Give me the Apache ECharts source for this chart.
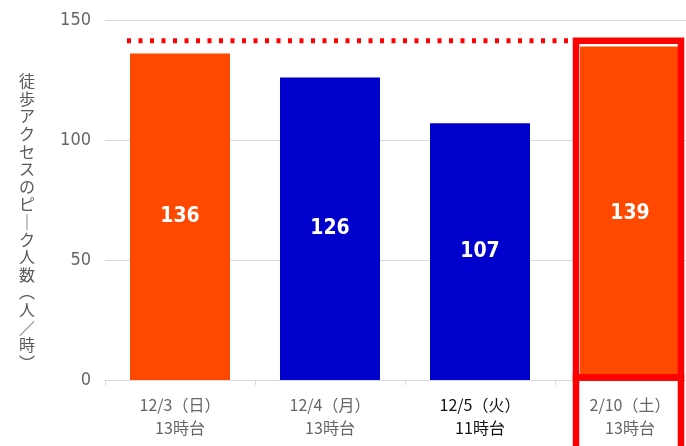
<!DOCTYPE html>
<html>
<head>
<meta charset="utf-8">
<script src="https://cdn.jsdelivr.net/npm/echarts@6/dist/echarts.min.js"></script>
<style>html,body{margin:0;padding:0;background:#fff;}#c{width:686px;height:446px;}</style>
</head>
<body>
<div id="c"></div>
<script>
const categories = ['12/3（日）\n13時台', '12/4（月）\n13時台', '12/5（火）\n11時台', '2/10（土）\n13時台'];
const values = [136, 126, 107, 139];
const barColors = ['#FF4800', '#0000CC', '#0000CC', '#FF4800'];
const labelColors = ['#666666', '#666666', '#111111', '#666666'];
const yTicks = [0, 50, 100, 150];
const yName = '徒歩アクセスのピ｜ク人数︵人／時︶';
const referenceValue = 141.4;

const numFont = '"DejaVu Sans Condensed", "Noto Sans CJK JP", sans-serif';
const chart = echarts.init(document.getElementById('c'));
chart.setOption({
  animation: false,
  backgroundColor: '#ffffff',
  grid: { left: 105, width: 600, top: 20, height: 360, containLabel: false, outerBoundsMode: 'none' },
  xAxis: {
    type: 'category',
    data: categories,
    axisLine: { lineStyle: { color: '#d9d9d9', width: 1 } },
    axisTick: { show: true, length: 5, lineStyle: { color: '#d9d9d9' } },
    axisLabel: {
      margin: 13,
      fontSize: 16,
      lineHeight: 23,
      fontFamily: '"Noto Sans CJK JP", sans-serif',
      color: function (v, i) { return labelColors[i]; }
    }
  },
  yAxis: {
    type: 'value',
    min: yTicks[0],
    max: yTicks[yTicks.length - 1],
    interval: 50,
    axisLine: { show: false },
    axisTick: { show: false },
    splitLine: { lineStyle: { color: '#d9d9d9', width: 1 } },
    axisLabel: { margin: 14, fontSize: 18, color: '#666666', fontFamily: numFont }
  },
  series: [{
    type: 'bar',
    barWidth: 100,
    data: values.map((v, i) => ({ value: v, itemStyle: { color: barColors[i] } })),
    label: {
      show: true,
      position: 'inside',
      color: '#ffffff',
      fontSize: 21,
      fontWeight: 'bold',
      fontFamily: numFont
    }
  }]
});

// annotations positioned from the chart's own scales
const last = values.length - 1;
const cx = chart.convertToPixel({ xAxisIndex: 0 }, last);
const zeroY = chart.convertToPixel({ yAxisIndex: 0 }, 0);
const refY = chart.convertToPixel({ yAxisIndex: 0 }, referenceValue);
const firstLeft = chart.convertToPixel({ xAxisIndex: 0 }, 0) - 53;
const boxL = cx - 54, boxR = cx + 51;
const boxT = refY, boxB = zeroY - 2.5;
chart.setOption({
  graphic: [
    { type: 'text', x: 27, y: 222,
      style: { text: yName.split('').join('\n'), fill: '#595959', fontSize: 16, lineHeight: 17.6,
               fontFamily: '"Noto Sans CJK JP", sans-serif', align: 'center', verticalAlign: 'middle' } },
    { type: 'line', shape: { x1: firstLeft, y1: refY, x2: boxL - 3, y2: refY },
      style: { stroke: '#FF0000', lineWidth: 5, lineDash: [4, 7.5] }, z: 10 },
    { type: 'rect', shape: { x: boxL, y: boxT, width: boxR - boxL, height: boxB - boxT },
      style: { fill: 'none', stroke: '#FF0000', lineWidth: 6.5 }, z: 10 },
    { type: 'rect', shape: { x: boxL, y: boxB, width: boxR - boxL, height: 100 },
      style: { fill: 'none', stroke: '#FF0000', lineWidth: 6.5 }, z: 10 }
  ]
});
</script>
</body>
</html>
